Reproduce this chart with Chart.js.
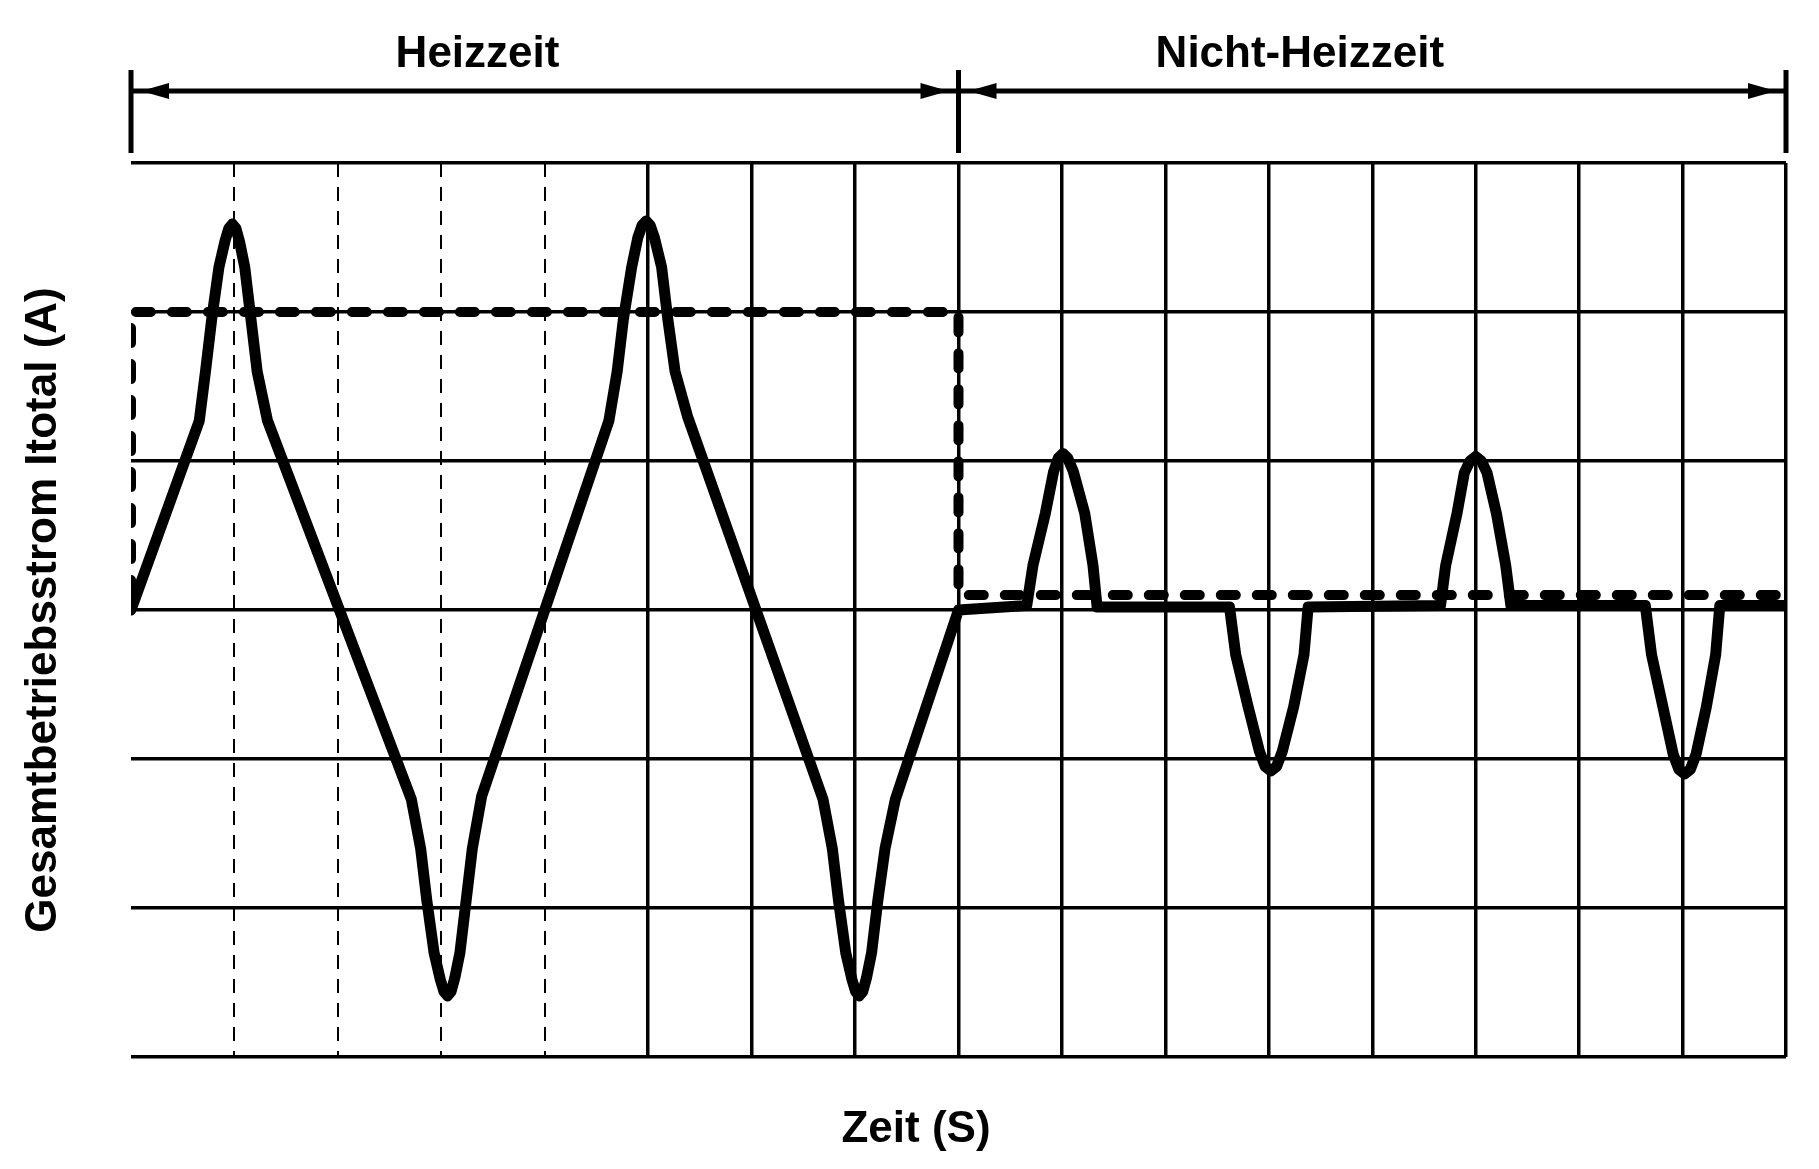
<!DOCTYPE html>
<html>
<head>
<meta charset="utf-8">
<script src="https://cdn.jsdelivr.net/npm/chart.js@4/dist/chart.umd.min.js"></script>
<style>
  body { margin: 0; background: #fff; }
  canvas { display: block; }
</style>
</head>
<body>
<canvas id="currentChart" width="1819" height="1169"></canvas>
<script>
// Heizzeit: current of the heating period (grid units, time 0..8)
const heatTime = [0, 0.66, 0.72, 0.78, 0.85, 0.91, 0.945, 0.98, 1.015, 1.05, 1.10, 1.16, 1.22, 1.32,
    2.71, 2.80, 2.86, 2.93, 2.99, 3.025, 3.06, 3.095, 3.13, 3.18, 3.24, 3.30, 3.39,
    4.62, 4.70, 4.76, 4.84, 4.90, 4.94, 4.98, 5.02, 5.06, 5.13, 5.19, 5.26, 5.38,
    6.69, 6.78, 6.84, 6.91, 6.97, 7.005, 7.04, 7.075, 7.11, 7.16, 7.22, 7.29, 7.39, 8.0];
const heatCurrent = [0, 1.27, 1.6, 1.95, 2.3, 2.48, 2.56, 2.59, 2.56, 2.47, 2.3, 1.95, 1.6, 1.27,
    -1.27, -1.6, -1.95, -2.3, -2.48, -2.56, -2.59, -2.56, -2.47, -2.3, -1.95, -1.6, -1.25,
    1.27, 1.6, 1.95, 2.3, 2.5, 2.58, 2.61, 2.58, 2.5, 2.3, 1.95, 1.6, 1.3,
    -1.27, -1.6, -1.95, -2.3, -2.48, -2.56, -2.59, -2.56, -2.47, -2.3, -1.95, -1.6, -1.27, 0];

// Nicht-Heizzeit: current of the non-heating period (time 8..16)
const idleTime = [8.0, 8.66, 8.72, 8.84, 8.92, 8.965, 9.01, 9.055, 9.11, 9.22, 9.30, 9.34,
    10.62, 10.68, 10.80, 10.91, 10.965, 11.02, 11.075, 11.13, 11.24, 11.34, 11.38,
    12.66, 12.71, 12.82, 12.89, 12.945, 13.0, 13.055, 13.11, 13.20, 13.29, 13.34,
    14.64, 14.70, 14.81, 14.91, 14.965, 15.02, 15.075, 15.13, 15.23, 15.32, 15.36, 16];
const idleCurrent = [0.03, 0.03, 0.3, 0.65, 0.93, 1.02, 1.05, 1.02, 0.93, 0.65, 0.3, 0.02,
    0.02, -0.3, -0.65, -0.95, -1.05, -1.08, -1.05, -0.95, -0.65, -0.3, 0.02,
    0.03, 0.3, 0.65, 0.92, 1.0, 1.03, 1.0, 0.92, 0.65, 0.3, 0.03,
    0.03, -0.3, -0.65, -0.97, -1.07, -1.1, -1.07, -0.97, -0.65, -0.3, 0.03, 0.03];

// dashed level (mean current)
const levelTime = [0, 0, 8, 8, 16];
const levelCurrent = [0.1, 2, 2, 0.1, 0.1];

const timeRange = [0, 16];
const currentRange = [-3, 3];
const periodBounds = [0, 8, 16];
const periodLabels = ["Heizzeit", "Nicht-Heizzeit"];
const periodLabelAt = [3.35, 11.3];

const toPoints = (xs, ys) => xs.map((x, i) => ({ x: x, y: ys[i] }));

const FONT = 'bold 44px "Liberation Sans", Arial, sans-serif';

// bracket with arrows above the plot + axis titles
const annotations = {
    id: "annotations",
    afterDraw(chart) {
        const ctx = chart.ctx;
        const xs = chart.scales.x;
        const area = chart.chartArea;
        const top = area.top;
        const yArrow = top - 72;

        ctx.save();
        ctx.strokeStyle = "#000";
        ctx.fillStyle = "#000";
        ctx.lineWidth = 5;

        const px = periodBounds.map(v => xs.getPixelForValue(v));
        px.forEach(x => {
            ctx.beginPath();
            ctx.moveTo(x, top - 93);
            ctx.lineTo(x, top - 10);
            ctx.stroke();
        });
        ctx.beginPath();
        ctx.moveTo(px[0], yArrow);
        ctx.lineTo(px[2], yArrow);
        ctx.stroke();

        function head(tip, dir) {
            ctx.beginPath();
            ctx.moveTo(tip, yArrow);
            ctx.lineTo(tip + dir * 28, yArrow - 8);
            ctx.lineTo(tip + dir * 28, yArrow + 8);
            ctx.closePath();
            ctx.fill();
        }
        for (let i = 0; i < px.length - 1; i++) {
            head(px[i] + 10, 1);
            head(px[i + 1] - 10, -1);
        }

        ctx.font = FONT;
        ctx.textAlign = "center";
        ctx.textBaseline = "middle";
        periodLabels.forEach((t, i) => {
            ctx.fillText(t, xs.getPixelForValue(periodLabelAt[i]), top - 108);
        });

        ctx.fillText("Zeit (S)", 916, area.bottom + 73);

        ctx.translate(44, (area.top + area.bottom) / 2);
        ctx.rotate(-Math.PI / 2);
        ctx.fillText("Gesamtbetriebsstrom Itotal (A)", 0, 0);
        ctx.restore();
    }
};

const ctx = document.getElementById("currentChart").getContext("2d");
new Chart(ctx, {
    type: "line",
    data: {
        datasets: [
            {
                label: "Itotal",
                data: toPoints(heatTime.concat(idleTime.slice(1)), heatCurrent.concat(idleCurrent.slice(1))),
                borderColor: "#000",
                borderWidth: 11,
                borderJoinStyle: "round",
                borderCapStyle: "round",
                pointRadius: 0,
                tension: 0
            },
            {
                label: "Mittelwert",
                data: toPoints(levelTime, levelCurrent),
                borderColor: "#000",
                borderWidth: 10,
                borderDash: [15, 21],
                borderCapStyle: "round",
                pointRadius: 0,
                tension: 0
            }
        ]
    },
    options: {
        responsive: false,
        animation: false,
        layout: { padding: { left: 131, right: 33, top: 163, bottom: 112 } },
        plugins: {
            legend: { display: false },
            tooltip: { enabled: false }
        },
        scales: {
            x: {
                type: "linear",
                min: timeRange[0],
                max: timeRange[1],
                ticks: { display: false, stepSize: 1 },
                grid: {
                    drawTicks: false,
                    color: c => (c.tick && c.tick.value === 0) ? "rgba(0,0,0,0)" : "#000",
                    lineWidth: c => (c.tick && c.tick.value >= 1 && c.tick.value <= 4) ? 2 : 3.5
                },
                border: {
                    display: false,
                    dash: c => (c.tick && c.tick.value >= 1 && c.tick.value <= 4) ? [14, 10] : []
                }
            },
            y: {
                min: currentRange[0],
                max: currentRange[1],
                ticks: { display: false, stepSize: 1 },
                grid: { drawTicks: false, color: "#000", lineWidth: 3.5 },
                border: { display: false }
            }
        }
    },
    plugins: [annotations]
});
</script>
</body>
</html>
